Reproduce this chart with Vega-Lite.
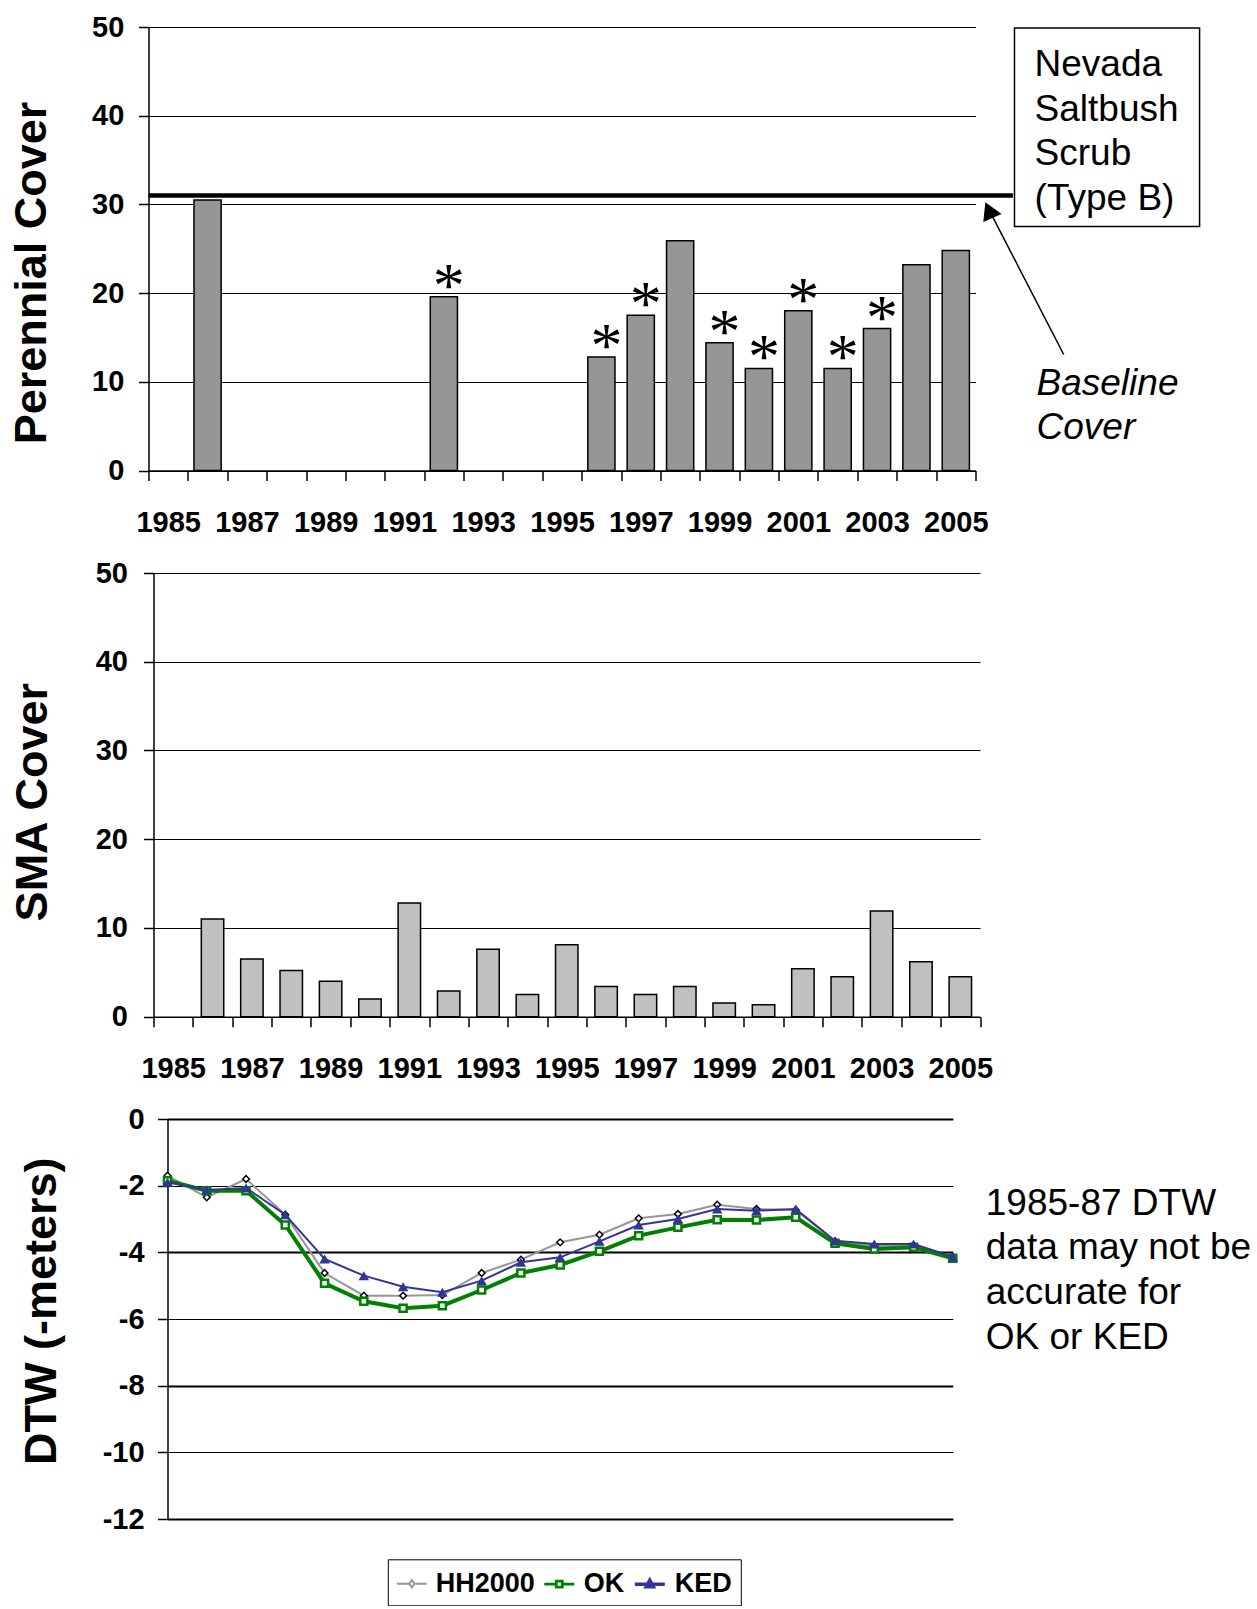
{
  "$schema": "https://vega.github.io/schema/vega-lite/v6.json",
  "background": "white",
  "padding": {"left": 8.5, "top": 13, "right": 5, "bottom": 0},
  "datasets": {
    "cover": [
      {"year": 1985, "perennial": null, "sma": null, "star": false},
      {"year": 1986, "perennial": 30.5, "sma": 11.0, "star": false},
      {"year": 1987, "perennial": null, "sma": 6.5, "star": false},
      {"year": 1988, "perennial": null, "sma": 5.2, "star": false},
      {"year": 1989, "perennial": null, "sma": 4.0, "star": false},
      {"year": 1990, "perennial": null, "sma": 2.0, "star": false},
      {"year": 1991, "perennial": null, "sma": 12.8, "star": false},
      {"year": 1992, "perennial": 19.6, "sma": 2.9, "star": true},
      {"year": 1993, "perennial": null, "sma": 7.6, "star": false},
      {"year": 1994, "perennial": null, "sma": 2.5, "star": false},
      {"year": 1995, "perennial": null, "sma": 8.1, "star": false},
      {"year": 1996, "perennial": 12.8, "sma": 3.4, "star": true},
      {"year": 1997, "perennial": 17.5, "sma": 2.5, "star": true},
      {"year": 1998, "perennial": 25.9, "sma": 3.4, "star": false},
      {"year": 1999, "perennial": 14.4, "sma": 1.55, "star": true},
      {"year": 2000, "perennial": 11.5, "sma": 1.35, "star": true},
      {"year": 2001, "perennial": 18.0, "sma": 5.4, "star": true},
      {"year": 2002, "perennial": 11.5, "sma": 4.5, "star": true},
      {"year": 2003, "perennial": 16.0, "sma": 11.9, "star": true},
      {"year": 2004, "perennial": 23.2, "sma": 6.2, "star": false},
      {"year": 2005, "perennial": 24.8, "sma": 4.5, "star": false}
    ],
    "dtw": [
      {"year": 1985, "HH2000": -1.70, "OK": -1.85, "KED": -1.90},
      {"year": 1986, "HH2000": -2.35, "OK": -2.15, "KED": -2.13},
      {"year": 1987, "HH2000": -1.80, "OK": -2.15, "KED": -2.07},
      {"year": 1988, "HH2000": -2.87, "OK": -3.18, "KED": -2.87},
      {"year": 1989, "HH2000": -4.62, "OK": -4.93, "KED": -4.20},
      {"year": 1990, "HH2000": -5.30, "OK": -5.47, "KED": -4.70},
      {"year": 1991, "HH2000": -5.30, "OK": -5.68, "KED": -5.03},
      {"year": 1992, "HH2000": -5.28, "OK": -5.60, "KED": -5.20},
      {"year": 1993, "HH2000": -4.62, "OK": -5.13, "KED": -4.85},
      {"year": 1994, "HH2000": -4.22, "OK": -4.62, "KED": -4.30},
      {"year": 1995, "HH2000": -3.70, "OK": -4.38, "KED": -4.15},
      {"year": 1996, "HH2000": -3.47, "OK": -3.97, "KED": -3.67},
      {"year": 1997, "HH2000": -2.98, "OK": -3.50, "KED": -3.18},
      {"year": 1998, "HH2000": -2.85, "OK": -3.25, "KED": -3.00},
      {"year": 1999, "HH2000": -2.57, "OK": -3.02, "KED": -2.70},
      {"year": 2000, "HH2000": -2.70, "OK": -3.03, "KED": -2.75},
      {"year": 2001, "HH2000": -2.73, "OK": -2.95, "KED": -2.70},
      {"year": 2002, "HH2000": -3.67, "OK": -3.73, "KED": -3.65},
      {"year": 2003, "HH2000": -3.80, "OK": -3.90, "KED": -3.75},
      {"year": 2004, "HH2000": -3.80, "OK": -3.85, "KED": -3.75},
      {"year": 2005, "HH2000": -4.13, "OK": -4.18, "KED": -4.13}
    ],
    "baseline": [{"from": 1984.5, "to": 2006.45, "cover": 31}],
    "labelbox": [{"x1": 2006.49, "x2": 2011.19, "y1": 27.5, "y2": 49.9}],
    "boxtext": [{"x": 2007.0, "y": 45.7, "text": "Nevada\nSaltbush\nScrub\n(Type B)"}],
    "basetext": [{"x": 2007.05, "y": 9.7, "text": "Baseline\nCover"}],
    "arrowline": [{"x1": 2007.74, "y1": 13.08, "x2": 2005.9, "y2": 28.9}],
    "arrowhead": [{"x": 2005.84, "y": 29.36}],
    "note": [{"x": 2005.84, "y": -2.54, "text": "1985-87 DTW\ndata may not be\naccurate for\nOK or KED"}]
  },
  "vconcat": [
    {
      "spacing": 0,
      "hconcat": [
        {"width": 1, "height": 10, "data": {"values": []}, "mark": "point"},
        {
          "width": 827,
          "height": 443.5,
          "layer": [
            {
              "data": {"name": "cover"},
              "layer": [
                {
                  "mark": {"type": "bar", "fill": "#969696", "stroke": "black", "strokeWidth": 1.5, "width": {"band": 0.69}},
                  "encoding": {
                    "x": {
                      "field": "year", "type": "ordinal",
                      "scale": {"domain": [1985,1986,1987,1988,1989,1990,1991,1992,1993,1994,1995,1996,1997,1998,1999,2000,2001,2002,2003,2004,2005], "paddingInner": 0, "paddingOuter": 0},
                      "axis": {"title": null, "tickBand": "extent", "labelExpr": "datum.value % 2 == 1 ? datum.label : ''", "labelAngle": 0, "tickSize": 10, "labelPadding": 28, "labelOverlap": false, "labelBound": false, "labelFlush": false, "grid": false}
                    },
                    "y": {
                      "field": "perennial", "type": "quantitative",
                      "scale": {"domain": [0, 50], "nice": false},
                      "axis": {"values": [0, 10, 20, 30, 40, 50], "title": "Perennial Cover", "titleX": -102.7, "titleY": 245.5, "titleAlign": "center", "titleBaseline": "alphabetic", "tickSize": 10, "labelPadding": 14.7, "grid": true}
                    }
                  }
                },
                {
                  "transform": [{"filter": "datum.star"}],
                  "mark": {"type": "text", "text": "*", "font": "Liberation Serif", "fontSize": 64, "baseline": "alphabetic", "align": "center", "dy": 10, "dx": 5, "color": "black"},
                  "encoding": {
                    "x": {"field": "year", "type": "ordinal"},
                    "y": {"field": "perennial", "type": "quantitative"}
                  }
                }
              ]
            },
            {
              "layer": [
                {
                  "data": {"name": "baseline"},
                  "mark": {"type": "rule", "stroke": "black", "strokeWidth": 4.5},
                  "encoding": {
                    "x": {"field": "from", "type": "quantitative", "scale": {"domain": [1984.5, 2005.5], "nice": false, "zero": false}, "axis": null},
                    "x2": {"field": "to"},
                    "y": {"field": "cover", "type": "quantitative"}
                  }
                },
                {
                  "data": {"name": "labelbox"},
                  "mark": {"type": "rect", "fill": "white", "stroke": "black", "strokeWidth": 1.5},
                  "encoding": {
                    "x": {"field": "x1", "type": "quantitative"},
                    "x2": {"field": "x2"},
                    "y": {"field": "y1", "type": "quantitative"},
                    "y2": {"field": "y2"}
                  }
                },
                {
                  "data": {"name": "boxtext"},
                  "mark": {"type": "text", "align": "left", "baseline": "middle", "fontSize": 37, "lineHeight": 44.5, "lineBreak": "\n", "font": "Liberation Sans", "color": "black"},
                  "encoding": {
                    "x": {"field": "x", "type": "quantitative"},
                    "y": {"field": "y", "type": "quantitative"},
                    "text": {"field": "text"}
                  }
                },
                {
                  "data": {"name": "basetext"},
                  "mark": {"type": "text", "align": "left", "baseline": "middle", "fontSize": 37, "fontStyle": "italic", "lineHeight": 44, "lineBreak": "\n", "font": "Liberation Sans", "color": "black"},
                  "encoding": {
                    "x": {"field": "x", "type": "quantitative"},
                    "y": {"field": "y", "type": "quantitative"},
                    "text": {"field": "text"}
                  }
                },
                {
                  "data": {"name": "arrowline"},
                  "mark": {"type": "rule", "stroke": "black", "strokeWidth": 1.5},
                  "encoding": {
                    "x": {"field": "x1", "type": "quantitative"},
                    "x2": {"field": "x2"},
                    "y": {"field": "y1", "type": "quantitative"},
                    "y2": {"field": "y2"}
                  }
                },
                {
                  "data": {"name": "arrowhead"},
                  "mark": {"type": "point", "shape": "triangle-up", "filled": true, "color": "black", "opacity": 1, "size": 400, "angle": 336},
                  "encoding": {
                    "x": {"field": "x", "type": "quantitative"},
                    "y": {"field": "y", "type": "quantitative"}
                  }
                }
              ]
            }
          ],
          "resolve": {"scale": {"x": "independent"}, "axis": {"x": "independent"}}
        }
      ]
    },
    {
      "spacing": 0,
      "hconcat": [
        {"width": 1, "height": 10, "data": {"values": []}, "mark": "point"},
        {
          "width": 826.5,
          "height": 443.7,
          "data": {"name": "cover"},
          "mark": {"type": "bar", "fill": "#C0C0C0", "stroke": "black", "strokeWidth": 1.5, "width": {"band": 0.57}},
          "encoding": {
            "x": {
              "field": "year", "type": "ordinal",
              "scale": {"domain": [1985,1986,1987,1988,1989,1990,1991,1992,1993,1994,1995,1996,1997,1998,1999,2000,2001,2002,2003,2004,2005], "paddingInner": 0, "paddingOuter": 0},
              "axis": {"title": null, "tickBand": "extent", "labelExpr": "datum.value % 2 == 1 ? datum.label : ''", "labelAngle": 0, "tickSize": 10, "labelPadding": 28, "labelOverlap": false, "labelBound": false, "labelFlush": false, "grid": false}
            },
            "y": {
              "field": "sma", "type": "quantitative",
              "scale": {"domain": [0, 50], "nice": false},
              "axis": {"values": [0, 10, 20, 30, 40, 50], "title": "SMA Cover", "titleX": -107.4, "titleY": 228.7, "titleAlign": "center", "titleBaseline": "alphabetic", "tickSize": 10, "labelPadding": 16, "grid": true}
            }
          }
        }
      ]
    },
    {
      "spacing": 0,
      "resolve": {"legend": {"shape": "independent", "stroke": "independent", "fill": "independent", "strokeWidth": "independent"}},
      "hconcat": [
        {"width": 10.7, "height": 10, "data": {"values": []}, "mark": "point"},
        {
          "width": 785.3,
          "height": 400,
          "layer": [
            {
              "data": {"name": "dtw"},
              "mark": {"type": "line", "stroke": "#969696", "strokeWidth": 2},
              "encoding": {
                "x": {"field": "year", "type": "quantitative", "scale": {"domain": [1985, 2005], "nice": false, "zero": false}, "axis": null},
                "y": {
                  "field": "HH2000", "type": "quantitative",
                  "scale": {"domain": [-12, 0], "nice": false},
                  "axis": {"values": [0, -2, -4, -6, -8, -10, -12], "labelExpr": "'' + datum.value", "title": "DTW (-meters)", "titleX": -111.7, "titleY": 191.8, "titleAlign": "center", "titleBaseline": "alphabetic", "tickSize": 10, "labelPadding": 13.4, "grid": true, "gridWidth": {"condition": {"test": "datum.value % 4 === 0", "value": 2}, "value": 1}}
                }
              }
            },
            {
              "data": {"name": "dtw"},
              "mark": {"type": "point", "shape": "diamond", "filled": true, "fill": "white", "stroke": "black", "strokeWidth": 1.5, "size": 45, "opacity": 1},
              "encoding": {
                "x": {"field": "year", "type": "quantitative"},
                "y": {"field": "HH2000", "type": "quantitative"}
              }
            },
            {
              "data": {"name": "dtw"},
              "mark": {"type": "line", "stroke": "#008000", "strokeWidth": 4},
              "encoding": {
                "x": {"field": "year", "type": "quantitative"},
                "y": {"field": "OK", "type": "quantitative"}
              }
            },
            {
              "data": {"name": "dtw"},
              "mark": {"type": "point", "shape": "square", "filled": true, "fill": "white", "stroke": "#008000", "strokeWidth": 2.5, "size": 50, "opacity": 1},
              "encoding": {
                "x": {"field": "year", "type": "quantitative"},
                "y": {"field": "OK", "type": "quantitative"}
              }
            },
            {
              "data": {"name": "dtw"},
              "mark": {"type": "line", "stroke": "#333399", "strokeWidth": 2},
              "encoding": {
                "x": {"field": "year", "type": "quantitative"},
                "y": {"field": "KED", "type": "quantitative"}
              }
            },
            {
              "data": {"name": "dtw"},
              "mark": {"type": "point", "shape": "triangle-up", "filled": true, "color": "#333399", "size": 110, "opacity": 1},
              "encoding": {
                "x": {"field": "year", "type": "quantitative"},
                "y": {"field": "KED", "type": "quantitative"}
              }
            },
            {
              "data": {"name": "dtw"},
              "transform": [{"fold": ["HH2000", "OK", "KED"], "as": ["series", "depth"]}],
              "mark": {"type": "point", "opacity": 0},
              "encoding": {
                "x": {"field": "year", "type": "quantitative"},
                "y": {"field": "depth", "type": "quantitative"},
                "shape": {
                  "field": "series", "type": "ordinal",
                  "scale": {"domain": ["HH2000", "OK", "KED"], "range": ["M-1,0H-0.17M0.17,0H1M0,-0.25L0.17,0L0,0.25L-0.17,0Z", "M-1,0H-0.2M0.2,0H1M-0.2,-0.2H0.2V0.2H-0.2Z", "M-1,0H1M0,-0.27L0.24,0.17H-0.24Z"]},
                  "legend": {"title": null, "orient": "none", "legendX": 220.3, "legendY": 440.3, "direction": "horizontal", "symbolSize": 900, "symbolOpacity": 1, "labelFont": "Liberation Sans", "labelFontSize": 27, "labelFontWeight": "bold", "labelColor": "black", "labelOffset": 8, "columnPadding": 3, "padding": 8, "strokeColor": "black", "fillColor": "white"}
                },
                "stroke": {"field": "series", "type": "ordinal", "scale": {"domain": ["HH2000", "OK", "KED"], "range": ["#969696", "#008000", "#333399"]}},
                "fill": {"field": "series", "type": "ordinal", "scale": {"domain": ["HH2000", "OK", "KED"], "range": ["white", "white", "#333399"]}},
                "strokeWidth": {"field": "series", "type": "ordinal", "scale": {"domain": ["HH2000", "OK", "KED"], "range": [2, 3.5, 2]}}
              }
            },
            {
              "data": {"name": "note"},
              "mark": {"type": "text", "align": "left", "baseline": "middle", "fontSize": 37, "lineHeight": 44.7, "lineBreak": "\n", "font": "Liberation Sans", "color": "black"},
              "encoding": {
                "x": {"field": "x", "type": "quantitative"},
                "y": {"field": "y", "type": "quantitative"},
                "text": {"field": "text"}
              }
            }
          ]
        }
      ]
    }
  ],
  "spacing": 21,
  "config": {
    "view": {"stroke": null},
    "font": "Liberation Sans",
    "axis": {
      "labelFont": "Liberation Sans",
      "labelFontSize": 29,
      "labelFontWeight": "bold",
      "labelColor": "black",
      "titleFont": "Liberation Sans",
      "titleFontSize": 45,
      "titleFontWeight": "bold",
      "titleColor": "black",
      "domainColor": "black",
      "domainWidth": 1.5,
      "tickColor": "black",
      "tickWidth": 1.5,
      "gridColor": "black",
      "gridOpacity": 1,
      "gridWidth": 1
    }
  }
}
